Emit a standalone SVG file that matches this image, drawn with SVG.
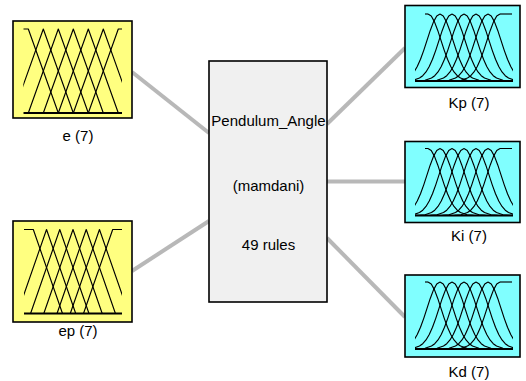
<svg xmlns="http://www.w3.org/2000/svg" xmlns:xlink="http://www.w3.org/1999/xlink" width="526" height="381" viewBox="0 0 526 381">
<style>
.conn{stroke:#b8b8b8;stroke-width:4;fill:none}
.in{fill:#ffff80;stroke:#000;stroke-width:1.6}
.out{fill:#80ffff;stroke:#000;stroke-width:1.6}
.sys{fill:#f0f0f0;stroke:#000;stroke-width:1.6}
.mf{fill:none;stroke:#000;stroke-width:1.15;stroke-linejoin:round}
.base{stroke:#000;stroke-width:2}
.lbl{font-family:"Liberation Sans",Arial,sans-serif;font-size:15px;fill:#000;text-anchor:middle}
</style>
<defs>
<path id="gR" d="M0,-67 L3.25,-64.94 L6.5,-59.13 L9.75,-50.57 L13,-40.64 L16.25,-30.67 L19.5,-21.75 L22.75,-14.49 L26,-9.07 L29.25,-5.33 L32.5,-2.94 L39,-0.74 L45.5,-0.15 L52,0"/>
<g id="g"><use href="#gR" xlink:href="#gR"/><use href="#gR" xlink:href="#gR" transform="scale(-1,1)"/></g>
<g id="gset" class="mf">
<path d="M425,-67 H428"/>
<use href="#gR" xlink:href="#gR" x="428"/>
<use href="#g" xlink:href="#g" x="440"/>
<use href="#g" xlink:href="#g" x="452"/>
<use href="#g" xlink:href="#g" x="464"/>
<use href="#g" xlink:href="#g" x="476"/>
<use href="#g" xlink:href="#g" x="488"/>
<use href="#gR" xlink:href="#gR" transform="translate(500,0) scale(-1,1)"/>
<path d="M500,-67 H512"/>
<path class="base" d="M415,0 H513"/>
</g>
<clipPath id="cE"><rect x="23.3" y="27" width="98.7" height="88"/></clipPath>
<clipPath id="cEP"><rect x="24" y="227.5" width="98" height="88"/></clipPath>
<clipPath id="cO"><rect x="415" y="-70" width="98" height="72"/></clipPath>
</defs>
<g id="connectors">
<line class="conn" x1="132" y1="72" x2="209" y2="133"/>
<line class="conn" x1="132" y1="271" x2="209" y2="221"/>
<line class="conn" x1="327" y1="124" x2="405" y2="48"/>
<line class="conn" x1="327" y1="181.5" x2="405" y2="181.5"/>
<line class="conn" x1="327" y1="238" x2="405" y2="317"/>
</g>
<g id="e">
<rect class="in" x="13" y="21" width="119" height="97"/>
<g class="mf" clip-path="url(#cE)">
<path d="M23.3,29 H28.3 L58.3,113"/>
<path d="M13.3,113 L43.3,29 L73.3,113"/>
<path d="M28.3,113 L58.3,29 L88.3,113"/>
<path d="M43.3,113 L73.3,29 L103.3,113"/>
<path d="M58.3,113 L88.3,29 L118.3,113"/>
<path d="M73.3,113 L103.3,29 L133.3,113"/>
<path d="M88.3,113 L118.3,29 H122"/>
<path class="base" d="M23.3,113 H122"/>
</g>
<text class="lbl" x="78" y="141">e (7)</text>
</g>
<g id="ep">
<rect class="in" x="13" y="221" width="119" height="101"/>
<g class="mf" clip-path="url(#cEP)">
<path d="M24,229.5 H33.3 L62.5,313.5"/>
<path d="M17.33,313.5 L46.53,229.5 L75.73,313.5"/>
<path d="M30.57,313.5 L59.77,229.5 L88.97,313.5"/>
<path d="M43.8,313.5 L73,229.5 L102.2,313.5"/>
<path d="M57.03,313.5 L86.23,229.5 L115.43,313.5"/>
<path d="M70.27,313.5 L99.47,229.5 L128.67,313.5"/>
<path d="M83.5,313.5 L112.7,229.5 H122"/>
<path class="base" d="M24,313.5 H122"/>
</g>
<text class="lbl" x="78" y="336">ep (7)</text>
</g>
<g id="system">
<rect class="sys" x="209" y="61" width="118" height="241"/>
<text class="lbl" x="268.5" y="125.5">Pendulum_Angle</text>
<text class="lbl" x="268.5" y="191">(mamdani)</text>
<text class="lbl" x="268.5" y="250">49 rules</text>
</g>
<g id="Kp">
<rect class="out" x="405" y="5.5" width="115" height="82"/>
<g transform="translate(0,81)"><g clip-path="url(#cO)"><use href="#gset" xlink:href="#gset"/></g></g>
<text class="lbl" x="469" y="108">Kp (7)</text>
</g>
<g id="Ki">
<rect class="out" x="405" y="141.5" width="115" height="81"/>
<g transform="translate(0,215.5)"><g clip-path="url(#cO)"><use href="#gset" xlink:href="#gset"/></g></g>
<text class="lbl" x="469" y="241">Ki (7)</text>
</g>
<g id="Kd">
<rect class="out" x="405" y="275" width="115" height="82"/>
<g transform="translate(0,349)"><g clip-path="url(#cO)"><use href="#gset" xlink:href="#gset"/></g></g>
<text class="lbl" x="469" y="377">Kd (7)</text>
</g>
</svg>
